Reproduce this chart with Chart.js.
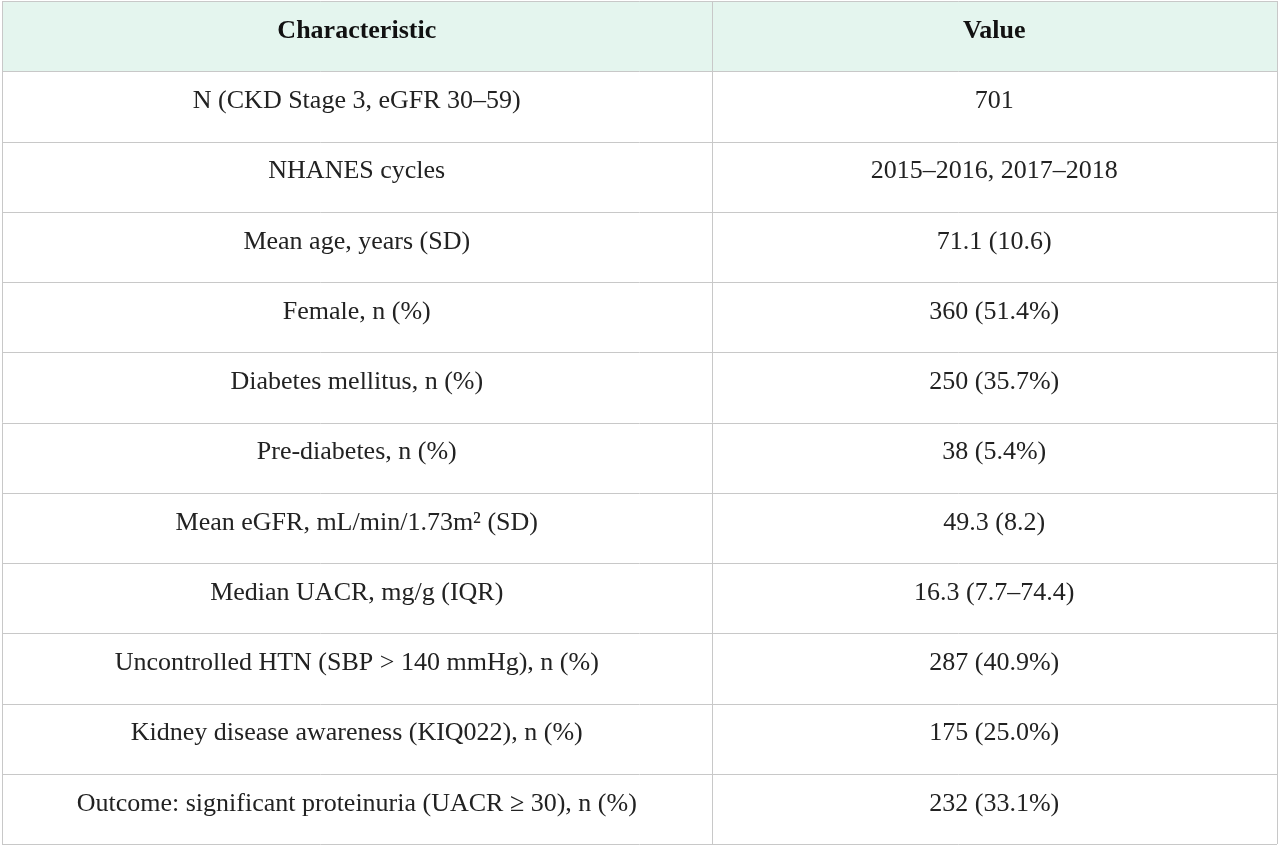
<!DOCTYPE html>
<html><head><meta charset="utf-8">
<script src="https://cdn.jsdelivr.net/npm/chart.js@4/dist/chart.umd.min.js"></script>
<style>html,body{margin:0;padding:0;background:#fff}#wrap{width:1280px;height:847px}</style>
</head><body><div id="wrap"><canvas id="c"></canvas></div>
<script>
const headers = ["Characteristic", "Value"];
const characteristics = [
  "N (CKD Stage 3, eGFR 30\u201359)",
  "NHANES cycles",
  "Mean age, years (SD)",
  "Female, n (%)",
  "Diabetes mellitus, n (%)",
  "Pre-diabetes, n (%)",
  "Mean eGFR, mL/min/1.73m\u00b2 (SD)",
  "Median UACR, mg/g (IQR)",
  "Uncontrolled HTN (SBP > 140 mmHg), n (%)",
  "Kidney disease awareness (KIQ022), n (%)",
  "Outcome: significant proteinuria (UACR \u2265 30), n (%)"
];
const values = [
  "701",
  "2015\u20132016, 2017\u20132018",
  "71.1 (10.6)",
  "360 (51.4%)",
  "250 (35.7%)",
  "38 (5.4%)",
  "49.3 (8.2)",
  "16.3 (7.7\u201374.4)",
  "287 (40.9%)",
  "175 (25.0%)",
  "232 (33.1%)"
];
const rowLabels = [headers[0]].concat(characteristics);
const colSplit = 0.5565;

const tablePlugin = {
  id: 'table',
  afterDraw(chart) {
    const ctx = chart.ctx, x = chart.scales.x, y = chart.scales.y;
    const L = x.getPixelForValue(0), R = x.getPixelForValue(1), M = x.getPixelForValue(colSplit);
    const step = y.getPixelForValue(1) - y.getPixelForValue(0);
    const c0 = (L + M) / 2, c1 = (M + R) / 2;
    ctx.save();
    const hTop = y.getPixelForValue(0) - step / 2;
    ctx.fillStyle = '#e4f5ee';
    ctx.fillRect(L, hTop, R - L, step);
    ctx.textAlign = 'center'; ctx.textBaseline = 'middle';
    rowLabels.forEach((lab, i) => {
      const cy = y.getPixelForValue(i) - 5;
      if (i === 0) {
        ctx.font = 'bold 26px "Liberation Serif", serif';
        ctx.fillStyle = '#111';
        ctx.fillText(headers[0], c0, cy);
        ctx.fillText(headers[1], c1, cy);
      } else {
        ctx.font = '26px "Liberation Serif", serif';
        ctx.fillStyle = '#222';
        ctx.fillText(characteristics[i - 1], c0, cy);
        ctx.fillText(values[i - 1], c1, cy);
      }
    });
    ctx.strokeStyle = '#c8c8c8'; ctx.lineWidth = 1;
    ctx.beginPath();
    for (let i = 0; i <= rowLabels.length; i++) {
      const yy = Math.round(y.getPixelForValue(0) - step / 2 + i * step) + 0.5;
      ctx.moveTo(L, yy); ctx.lineTo(R, yy);
    }
    const top = y.getPixelForValue(0) - step / 2, bot = top + step * rowLabels.length;
    [L, M, R].forEach(px => { const xx = Math.round(px) + 0.5; ctx.moveTo(xx, top); ctx.lineTo(xx, bot); });
    ctx.stroke();
    ctx.restore();
  }
};

new Chart(document.getElementById('c'), {
  type: 'scatter',
  data: {
    labels: rowLabels,
    datasets: [{ data: rowLabels.map((l, i) => ({ x: 0.5, y: l })), pointRadius: 0 }]
  },
  options: {
    responsive: true, maintainAspectRatio: false, animation: false,
    layout: { padding: { left: 2, right: 3, top: 1, bottom: 3 } },
    plugins: { legend: { display: false }, tooltip: { enabled: false } },
    scales: {
      x: { type: 'linear', min: 0, max: 1, display: false },
      y: { type: 'category', labels: rowLabels, offset: true, display: false }
    }
  },
  plugins: [tablePlugin]
});
</script></body></html>
